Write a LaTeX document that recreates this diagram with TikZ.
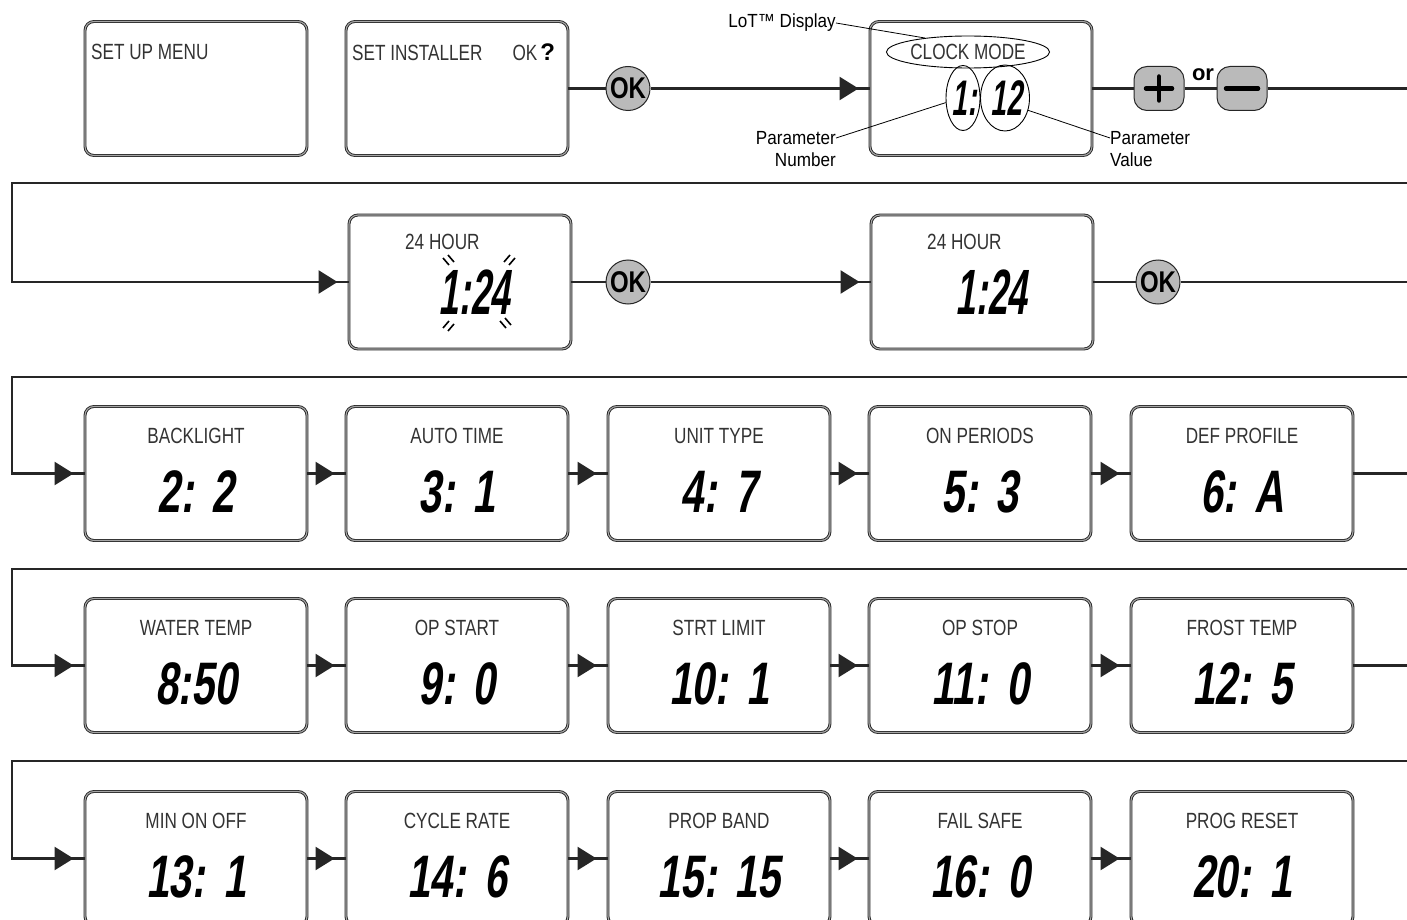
\documentclass[tikz,border=0pt]{standalone}
\usepackage{fontspec}
\setmainfont{Liberation Sans}
\newfontfamily\lcdsmall{Liberation Sans}[FakeStretch=0.78]
\newfontfamily\lcdbig{Liberation Sans}[FakeStretch=0.68,FakeSlant=0.15]
\newfontfamily\lcdnarrow{Liberation Sans}[FakeStretch=0.56,FakeSlant=0.15]
\newfontfamily\lblfont{Liberation Sans}[FakeStretch=0.9]
\newfontfamily\btnfont{Liberation Sans}[FakeStretch=0.8]
\usetikzlibrary{arrows.meta,shapes.geometric,decorations.markings}
\newcommand{\pval}[2]{#1\hspace{18pt}#2}
\begin{document}
\begin{tikzpicture}[x=1pt,y=-1pt,
  lcdbox/.style={draw=black!85, double=black!35, double distance=1.1pt, line width=0.9pt,
    rounded corners=9pt, minimum width=222pt, minimum height=134pt, inner sep=0pt},
  conn/.style={draw=black!85, line width=2.5pt},
  flow/.style={conn, postaction={decorate, decoration={markings,
    mark=at position -11pt with {\arrow{Triangle[length=19pt,width=23pt]}}}}},
  okbtn/.style={circle, draw=black!85, line width=1pt, fill=black!27, minimum size=44pt,
    inner sep=0pt, font=\btnfont\bfseries\fontsize{30}{30}\selectfont},
  pmbtn/.style={rectangle, rounded corners=13pt, draw=black!85, line width=1pt, fill=black!27,
    minimum width=50pt, minimum height=44pt, inner sep=0pt},
  sign/.style={line width=4.5pt, line cap=round, draw=black},
  lcdlbl/.style={font=\lcdsmall\fontsize{22}{22}\selectfont, text=black!80, inner sep=0pt},
  lcdnum/.style={font=\lcdbig\bfseries\fontsize{60}{60}\selectfont, inner sep=0pt},
  lcdhuge/.style={font=\lcdnarrow\bfseries\fontsize{64}{64}\selectfont, inner sep=0pt},
  lcdmid/.style={font=\lcdnarrow\bfseries\fontsize{50}{50}\selectfont, inner sep=0pt},
  lbl/.style={font=\lblfont\fontsize{19}{19}\selectfont, inner sep=0pt},
  leader/.style={draw=black, line width=0.8pt},
  oval/.style={ellipse, draw=black, line width=0.9pt, inner sep=0pt},
  tick/.style={draw=black, line width=1.6pt}
]
\useasboundingbox (0,0) rectangle (1407,920);
\clip (0,0) rectangle (1407,920);

% ---------- Row 1 ----------
\node[lcdbox] (b1) at (196,88.5) {};
\node[lcdbox] (b2) at (457,88.5) {};
\node[lcdbox] (b3) at (981,88.5) {};
\node[okbtn] (ok1) at (628,88.5) {OK};
\node[pmbtn] (plus) at (1159,88.5) {};
\node[pmbtn] (minus) at (1242,88.5) {};
\node[font=\bfseries\fontsize{22}{22}\selectfont, inner sep=0pt] (or) at (1203,75) {or};
\coordinate (r1) at (1407,88.5);
\draw[sign] ([xshift=-13pt]plus.center) -- ([xshift=13pt]plus.center);
\draw[sign] ([yshift=-12pt]plus.center) -- ([yshift=12pt]plus.center);
\draw[sign] ([xshift=-16pt]minus.center) -- ([xshift=16pt]minus.center);

\draw[conn] (b2.east) -- (ok1.west);
\draw[flow] (ok1.east) -- (b3.west);
\draw[conn] (b3.east) -- (plus.west);
\draw[conn] (plus.east) -- (minus.west);
\draw[conn] (minus.east) -- (r1);

\node[lcdlbl, anchor=west] (t1) at (91,52) {SET UP MENU};
\node[lcdlbl, anchor=west] (t2) at (352,52) {SET INSTALLER\hspace{30pt}OK\hspace{3pt}{\normalfont\bfseries\color{black}\fontsize{24}{24}\selectfont ?}};

\node[oval, minimum width=126pt, minimum height=32pt, lcdlbl, inner sep=0pt] (cm) at (968,52) {CLOCK MODE};
\node[oval, minimum width=34pt, minimum height=65pt] (pn) at (963,98) {};
\node[oval, minimum width=49pt, minimum height=66pt] (pv) at (1005,98) {};
\node[lcdmid] (pnt) at ([xshift=1pt]pn.center) {1:};
\node[lcdmid] (pvt) at ([xshift=1pt]pv.center) {12};

\node[lbl, anchor=east] (lot) at (836,23) {LoT™ Display};
\draw[leader] (lot.east) -- (cm.162);
\node[lbl, anchor=east] (pn1) at (836,138) {Parameter};
\node[lbl, anchor=east] (pn2) at (836,160) {Number};
\draw[leader] (pn1.east) -- (pn.195);
\node[lbl, anchor=west] (pv1) at (1110,138) {Parameter};
\node[lbl, anchor=west] (pv2) at (1110,160) {Value};
\draw[leader] (pv1.west) -- (pv.-28);

% ---------- Row 2 ----------
\node[lcdbox] (b4) at (460,282) {};
\node[lcdbox] (b5) at (982,282) {};
\node[okbtn] (ok2) at (628,282) {OK};
\node[okbtn] (ok3) at (1158,282) {OK};
\coordinate (e1) at (1407,183);
\coordinate (r2) at (1407,282);
\draw[flow] (e1) -- (12,183) |- (b4.west);
\draw[conn] (b4.east) -- (ok2.west);
\draw[flow] (ok2.east) -- (b5.west);
\draw[conn] (b5.east) -- (ok3.west);
\draw[conn] (ok3.east) -- (r2);

\node[lcdlbl, anchor=west] (h1) at (405,242) {24 HOUR};
\node[lcdhuge] (n1) at (474,292) {1:24};
\node[lcdlbl, anchor=west] (h2) at (927,242) {24 HOUR};
\node[lcdhuge] (n2) at (991,292) {1:24};
% flashing marks
\draw[tick] (443,258) -- (449,265);
\draw[tick] (448,255) -- (454,262);
\draw[tick] (510,255) -- (504,262);
\draw[tick] (515,258) -- (509,265);
\draw[tick] (443,328) -- (449,321);
\draw[tick] (448,331) -- (454,324);
\draw[tick] (500,321) -- (506,328);
\draw[tick] (505,318) -- (511,325);

% ---------- Row 3 ----------
\foreach \n/\x/\lab/\val in {c1/196/BACKLIGHT/{\pval{2:}{2}}, c2/457/AUTO TIME/{\pval{3:}{1}},
    c3/719/UNIT TYPE/{\pval{4:}{7}}, c4/980/ON PERIODS/{\pval{5:}{3}}, c5/1242/DEF PROFILE/{\pval{6:}{A}}}{
  \node[lcdbox] (\n) at (\x,473.5) {};
  \node[lcdlbl] (\n l) at (\x,436) {\lab};
  \node[lcdnum] (\n v) at (\x,492) {\val};
}
\coordinate (e2) at (1407,377);
\coordinate (r3) at (1407,473.5);
\draw[flow] (e2) -- (12,377) |- (c1.west);
\draw[flow] (c1.east) -- (c2.west);
\draw[flow] (c2.east) -- (c3.west);
\draw[flow] (c3.east) -- (c4.west);
\draw[flow] (c4.east) -- (c5.west);
\draw[conn] (c5.east) -- (r3);

% ---------- Row 4 ----------
\foreach \n/\x/\lab/\val in {d1/196/WATER TEMP/{8:50}, d2/457/OP START/{\pval{9:}{0}},
    d3/719/STRT LIMIT/{\pval{10:}{1}}, d4/980/OP STOP/{\pval{11:}{0}}, d5/1242/FROST TEMP/{\pval{12:}{5}}}{
  \node[lcdbox] (\n) at (\x,665.5) {};
  \node[lcdlbl] (\n l) at (\x,628) {\lab};
  \node[lcdnum] (\n v) at (\x,684) {\val};
}
\coordinate (e3) at (1407,569);
\coordinate (r4) at (1407,665.5);
\draw[flow] (e3) -- (12,569) |- (d1.west);
\draw[flow] (d1.east) -- (d2.west);
\draw[flow] (d2.east) -- (d3.west);
\draw[flow] (d3.east) -- (d4.west);
\draw[flow] (d4.east) -- (d5.west);
\draw[conn] (d5.east) -- (r4);

% ---------- Row 5 ----------
\foreach \n/\x/\lab/\val in {f1/196/MIN ON OFF/{\pval{13:}{1}}, f2/457/CYCLE RATE/{\pval{14:}{6}},
    f3/719/PROP BAND/{\pval{15:}{15}}, f4/980/FAIL SAFE/{\pval{16:}{0}}, f5/1242/PROG RESET/{\pval{20:}{1}}}{
  \node[lcdbox] (\n) at (\x,858.5) {};
  \node[lcdlbl] (\n l) at (\x,821) {\lab};
  \node[lcdnum] (\n v) at (\x,877) {\val};
}
\coordinate (e4) at (1407,761);
\draw[flow] (e4) -- (12,761) |- (f1.west);
\draw[flow] (f1.east) -- (f2.west);
\draw[flow] (f2.east) -- (f3.west);
\draw[flow] (f3.east) -- (f4.west);
\draw[flow] (f4.east) -- (f5.west);
\end{tikzpicture}
\end{document}
